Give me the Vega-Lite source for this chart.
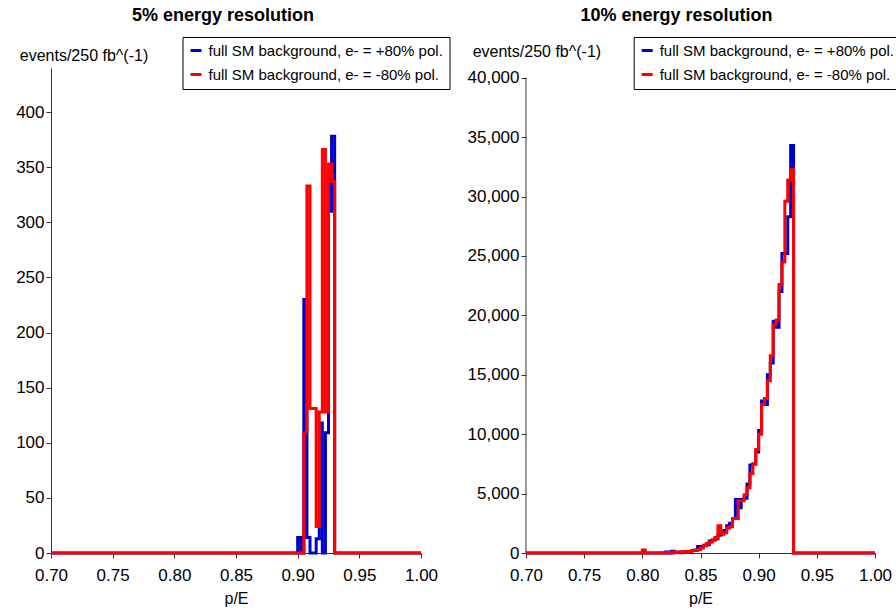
{
  "$schema": "https://vega.github.io/schema/vega-lite/v6.json",
  "background": "white",
  "padding": {"left": 15, "top": 6, "right": 0, "bottom": 2},
  "config": {
    "font": "Liberation Sans",
    "view": {"stroke": null},
    "concat": {"spacing": 17},
    "axis": {
      "grid": false,
      "labelFont": "Liberation Sans",
      "labelFontSize": 17,
      "labelColor": "black",
      "labelFlush": false,
      "titleFont": "Liberation Sans",
      "titleFontSize": 16,
      "titleFontWeight": "normal",
      "titleColor": "black",
      "domainColor": "#333333",
      "tickColor": "#333333",
      "tickSize": 5
    },
    "legend": {
      "labelFont": "Liberation Sans",
      "labelFontSize": 15,
      "labelColor": "black",
      "symbolType": "stroke",
      "symbolSize": 121,
      "symbolStrokeWidth": 3,
      "labelOffset": 5,
      "padding": 6,
      "rowPadding": 8,
      "strokeColor": "black",
      "fillColor": "white",
      "labelLimit": 400
    },
    "title": {"font": "Liberation Sans", "fontSize": 18, "fontWeight": "bold", "color": "black", "frame": "group", "anchor": "middle", "offset": 12}
  },
  "datasets": {
    "left": [
      {"series": "full SM background, e- = +80% pol.", "x": 0.70, "y": 0},
      {"series": "full SM background, e- = +80% pol.", "x": 0.900, "y": 14},
      {"series": "full SM background, e- = +80% pol.", "x": 0.9025, "y": 0},
      {"series": "full SM background, e- = +80% pol.", "x": 0.905, "y": 230},
      {"series": "full SM background, e- = +80% pol.", "x": 0.9075, "y": 14},
      {"series": "full SM background, e- = +80% pol.", "x": 0.910, "y": 0},
      {"series": "full SM background, e- = +80% pol.", "x": 0.915, "y": 13},
      {"series": "full SM background, e- = +80% pol.", "x": 0.9175, "y": 118},
      {"series": "full SM background, e- = +80% pol.", "x": 0.920, "y": 0},
      {"series": "full SM background, e- = +80% pol.", "x": 0.9225, "y": 109},
      {"series": "full SM background, e- = +80% pol.", "x": 0.925, "y": 310},
      {"series": "full SM background, e- = +80% pol.", "x": 0.9275, "y": 378},
      {"series": "full SM background, e- = +80% pol.", "x": 0.930, "y": 0},
      {"series": "full SM background, e- = +80% pol.", "x": 1.00, "y": 0},
      {"series": "full SM background, e- = -80% pol.", "x": 0.70, "y": 0},
      {"series": "full SM background, e- = -80% pol.", "x": 0.905, "y": 109},
      {"series": "full SM background, e- = -80% pol.", "x": 0.9075, "y": 333},
      {"series": "full SM background, e- = -80% pol.", "x": 0.910, "y": 131},
      {"series": "full SM background, e- = -80% pol.", "x": 0.9125, "y": 131},
      {"series": "full SM background, e- = -80% pol.", "x": 0.915, "y": 24},
      {"series": "full SM background, e- = -80% pol.", "x": 0.9175, "y": 128},
      {"series": "full SM background, e- = -80% pol.", "x": 0.920, "y": 366},
      {"series": "full SM background, e- = -80% pol.", "x": 0.9225, "y": 128},
      {"series": "full SM background, e- = -80% pol.", "x": 0.925, "y": 353},
      {"series": "full SM background, e- = -80% pol.", "x": 0.9275, "y": 337},
      {"series": "full SM background, e- = -80% pol.", "x": 0.930, "y": 0},
      {"series": "full SM background, e- = -80% pol.", "x": 1.00, "y": 0}
    ],
    "right": [
      {"series": "full SM background, e- = +80% pol.", "x": 0.70, "y": 0},
      {"series": "full SM background, e- = +80% pol.", "x": 0.820, "y": 80},
      {"series": "full SM background, e- = +80% pol.", "x": 0.8225, "y": 0},
      {"series": "full SM background, e- = +80% pol.", "x": 0.825, "y": 150},
      {"series": "full SM background, e- = +80% pol.", "x": 0.8275, "y": 40},
      {"series": "full SM background, e- = +80% pol.", "x": 0.830, "y": 60},
      {"series": "full SM background, e- = +80% pol.", "x": 0.8325, "y": 30},
      {"series": "full SM background, e- = +80% pol.", "x": 0.835, "y": 100},
      {"series": "full SM background, e- = +80% pol.", "x": 0.8375, "y": 50},
      {"series": "full SM background, e- = +80% pol.", "x": 0.840, "y": 100},
      {"series": "full SM background, e- = +80% pol.", "x": 0.8425, "y": 200},
      {"series": "full SM background, e- = +80% pol.", "x": 0.845, "y": 250},
      {"series": "full SM background, e- = +80% pol.", "x": 0.8475, "y": 550},
      {"series": "full SM background, e- = +80% pol.", "x": 0.850, "y": 530},
      {"series": "full SM background, e- = +80% pol.", "x": 0.8525, "y": 650},
      {"series": "full SM background, e- = +80% pol.", "x": 0.855, "y": 700},
      {"series": "full SM background, e- = +80% pol.", "x": 0.8575, "y": 1000},
      {"series": "full SM background, e- = +80% pol.", "x": 0.860, "y": 1100},
      {"series": "full SM background, e- = +80% pol.", "x": 0.8625, "y": 1200},
      {"series": "full SM background, e- = +80% pol.", "x": 0.865, "y": 1500},
      {"series": "full SM background, e- = +80% pol.", "x": 0.8675, "y": 1600},
      {"series": "full SM background, e- = +80% pol.", "x": 0.870, "y": 1900},
      {"series": "full SM background, e- = +80% pol.", "x": 0.8725, "y": 2300},
      {"series": "full SM background, e- = +80% pol.", "x": 0.875, "y": 2500},
      {"series": "full SM background, e- = +80% pol.", "x": 0.8775, "y": 2900},
      {"series": "full SM background, e- = +80% pol.", "x": 0.880, "y": 4500},
      {"series": "full SM background, e- = +80% pol.", "x": 0.8825, "y": 3800},
      {"series": "full SM background, e- = +80% pol.", "x": 0.885, "y": 4500},
      {"series": "full SM background, e- = +80% pol.", "x": 0.8875, "y": 4600},
      {"series": "full SM background, e- = +80% pol.", "x": 0.890, "y": 5800},
      {"series": "full SM background, e- = +80% pol.", "x": 0.8925, "y": 7400},
      {"series": "full SM background, e- = +80% pol.", "x": 0.895, "y": 7500},
      {"series": "full SM background, e- = +80% pol.", "x": 0.8975, "y": 8500},
      {"series": "full SM background, e- = +80% pol.", "x": 0.900, "y": 10300},
      {"series": "full SM background, e- = +80% pol.", "x": 0.9025, "y": 12800},
      {"series": "full SM background, e- = +80% pol.", "x": 0.905, "y": 12500},
      {"series": "full SM background, e- = +80% pol.", "x": 0.9075, "y": 15000},
      {"series": "full SM background, e- = +80% pol.", "x": 0.910, "y": 16000},
      {"series": "full SM background, e- = +80% pol.", "x": 0.9125, "y": 19500},
      {"series": "full SM background, e- = +80% pol.", "x": 0.915, "y": 19000},
      {"series": "full SM background, e- = +80% pol.", "x": 0.9175, "y": 22000},
      {"series": "full SM background, e- = +80% pol.", "x": 0.920, "y": 25200},
      {"series": "full SM background, e- = +80% pol.", "x": 0.9225, "y": 25200},
      {"series": "full SM background, e- = +80% pol.", "x": 0.925, "y": 28300},
      {"series": "full SM background, e- = +80% pol.", "x": 0.9275, "y": 34300},
      {"series": "full SM background, e- = +80% pol.", "x": 0.930, "y": 0},
      {"series": "full SM background, e- = +80% pol.", "x": 1.00, "y": 0},
      {"series": "full SM background, e- = -80% pol.", "x": 0.70, "y": 0},
      {"series": "full SM background, e- = -80% pol.", "x": 0.800, "y": 250},
      {"series": "full SM background, e- = -80% pol.", "x": 0.8025, "y": 0},
      {"series": "full SM background, e- = -80% pol.", "x": 0.8175, "y": 30},
      {"series": "full SM background, e- = -80% pol.", "x": 0.820, "y": 0},
      {"series": "full SM background, e- = -80% pol.", "x": 0.8225, "y": 50},
      {"series": "full SM background, e- = -80% pol.", "x": 0.825, "y": 0},
      {"series": "full SM background, e- = -80% pol.", "x": 0.8275, "y": 80},
      {"series": "full SM background, e- = -80% pol.", "x": 0.830, "y": 60},
      {"series": "full SM background, e- = -80% pol.", "x": 0.8325, "y": 100},
      {"series": "full SM background, e- = -80% pol.", "x": 0.835, "y": 60},
      {"series": "full SM background, e- = -80% pol.", "x": 0.8375, "y": 120},
      {"series": "full SM background, e- = -80% pol.", "x": 0.840, "y": 100},
      {"series": "full SM background, e- = -80% pol.", "x": 0.8425, "y": 200},
      {"series": "full SM background, e- = -80% pol.", "x": 0.845, "y": 200},
      {"series": "full SM background, e- = -80% pol.", "x": 0.8475, "y": 300},
      {"series": "full SM background, e- = -80% pol.", "x": 0.850, "y": 420},
      {"series": "full SM background, e- = -80% pol.", "x": 0.8525, "y": 600},
      {"series": "full SM background, e- = -80% pol.", "x": 0.855, "y": 800},
      {"series": "full SM background, e- = -80% pol.", "x": 0.8575, "y": 900},
      {"series": "full SM background, e- = -80% pol.", "x": 0.860, "y": 1100},
      {"series": "full SM background, e- = -80% pol.", "x": 0.8625, "y": 1300},
      {"series": "full SM background, e- = -80% pol.", "x": 0.865, "y": 2300},
      {"series": "full SM background, e- = -80% pol.", "x": 0.8675, "y": 1600},
      {"series": "full SM background, e- = -80% pol.", "x": 0.870, "y": 1700},
      {"series": "full SM background, e- = -80% pol.", "x": 0.8725, "y": 2100},
      {"series": "full SM background, e- = -80% pol.", "x": 0.875, "y": 2200},
      {"series": "full SM background, e- = -80% pol.", "x": 0.8775, "y": 2900},
      {"series": "full SM background, e- = -80% pol.", "x": 0.880, "y": 2900},
      {"series": "full SM background, e- = -80% pol.", "x": 0.8825, "y": 4400},
      {"series": "full SM background, e- = -80% pol.", "x": 0.885, "y": 4400},
      {"series": "full SM background, e- = -80% pol.", "x": 0.8875, "y": 4900},
      {"series": "full SM background, e- = -80% pol.", "x": 0.890, "y": 5500},
      {"series": "full SM background, e- = -80% pol.", "x": 0.8925, "y": 6700},
      {"series": "full SM background, e- = -80% pol.", "x": 0.895, "y": 7500},
      {"series": "full SM background, e- = -80% pol.", "x": 0.8975, "y": 8700},
      {"series": "full SM background, e- = -80% pol.", "x": 0.900, "y": 10000},
      {"series": "full SM background, e- = -80% pol.", "x": 0.9025, "y": 12500},
      {"series": "full SM background, e- = -80% pol.", "x": 0.905, "y": 13000},
      {"series": "full SM background, e- = -80% pol.", "x": 0.9075, "y": 14500},
      {"series": "full SM background, e- = -80% pol.", "x": 0.910, "y": 16600},
      {"series": "full SM background, e- = -80% pol.", "x": 0.9125, "y": 19200},
      {"series": "full SM background, e- = -80% pol.", "x": 0.915, "y": 19600},
      {"series": "full SM background, e- = -80% pol.", "x": 0.9175, "y": 22600},
      {"series": "full SM background, e- = -80% pol.", "x": 0.920, "y": 24500},
      {"series": "full SM background, e- = -80% pol.", "x": 0.9225, "y": 29600},
      {"series": "full SM background, e- = -80% pol.", "x": 0.925, "y": 31400},
      {"series": "full SM background, e- = -80% pol.", "x": 0.9275, "y": 32300},
      {"series": "full SM background, e- = -80% pol.", "x": 0.930, "y": 0},
      {"series": "full SM background, e- = -80% pol.", "x": 1.00, "y": 0}
    ],
    "rightaxis": [
      {"x": 0.70, "y": 0, "y2": 40000}
    ]
  },
  "hconcat": [
    {
      "title": {"text": "5% energy resolution", "dx": -13},
      "width": 370,
      "height": 485,
      "data": {"name": "left"},
      "encoding": {
        "x": {
          "field": "x", "type": "quantitative",
          "scale": {"domain": [0.7, 1.0], "nice": false, "zero": false},
          "axis": {"title": "p/E", "values": [0.7, 0.75, 0.8, 0.85, 0.9, 0.95, 1.0], "format": ".2f", "labelPadding": 9, "titlePadding": 7}
        },
        "y": {
          "field": "y", "type": "quantitative",
          "scale": {"domain": [0, 440], "nice": false},
          "axis": {"title": "events/250 fb^(-1)", "values": [0, 50, 100, 150, 200, 250, 300, 350, 400], "titleAngle": 0, "titleAlign": "center", "titleBaseline": "alphabetic", "titleX": 32.5, "titleY": -8}
        }
      },
      "layer": [
        {
          "transform": [{"filter": {"field": "series", "equal": "full SM background, e- = +80% pol."}}],
          "mark": {"type": "line", "interpolate": "step-after", "strokeWidth": 3},
          "encoding": {
            "color": {"field": "series", "type": "nominal",
              "scale": {"domain": ["full SM background, e- = +80% pol.", "full SM background, e- = -80% pol."], "range": ["#0000cc", "#ff0000"]},
              "legend": {"orient": "none", "legendX": 131.5, "legendY": -31, "title": null}}
          }
        },
        {
          "transform": [{"filter": {"field": "series", "equal": "full SM background, e- = -80% pol."}}],
          "mark": {"type": "line", "interpolate": "step-after", "strokeWidth": 3},
          "encoding": {
            "color": {"field": "series", "type": "nominal"}
          }
        }
      ]
    },
    {
      "title": {"text": "10% energy resolution", "dx": -24},
      "width": 349,
      "height": 485,
      "encoding": {
        "x": {
          "field": "x", "type": "quantitative",
          "scale": {"domain": [0.7, 1.0], "nice": false, "zero": false},
          "axis": {"title": "p/E", "values": [0.7, 0.75, 0.8, 0.85, 0.9, 0.95, 1.0], "format": ".2f", "labelPadding": 9, "titlePadding": 7}
        },
        "y": {
          "field": "y", "type": "quantitative",
          "scale": {"domain": [0, 40816], "nice": false},
          "axis": {"title": "events/250 fb^(-1)", "domain": false, "values": [0, 5000, 10000, 15000, 20000, 25000, 30000, 35000, 40000], "format": ",d", "titleAngle": 0, "titleAlign": "center", "titleBaseline": "alphabetic", "titleX": 10.4, "titleY": -12}
        }
      },
      "layer": [
        {
          "data": {"name": "rightaxis"},
          "mark": {"type": "rule", "color": "#333333", "strokeWidth": 1},
          "encoding": {"y2": {"field": "y2"}}
        },
        {
          "data": {"name": "right"},
          "transform": [{"filter": {"field": "series", "equal": "full SM background, e- = +80% pol."}}],
          "mark": {"type": "line", "interpolate": "step-after", "strokeWidth": 3},
          "encoding": {
            "color": {"field": "series", "type": "nominal",
              "scale": {"domain": ["full SM background, e- = +80% pol.", "full SM background, e- = -80% pol."], "range": ["#0000cc", "#ff0000"]},
              "legend": {"orient": "none", "legendX": 107.7, "legendY": -31, "title": null}}
          }
        },
        {
          "data": {"name": "right"},
          "transform": [{"filter": {"field": "series", "equal": "full SM background, e- = -80% pol."}}],
          "mark": {"type": "line", "interpolate": "step-after", "strokeWidth": 3},
          "encoding": {
            "color": {"field": "series", "type": "nominal"}
          }
        }
      ]
    }
  ],
  "resolve": {"scale": {"color": "independent"}}
}
